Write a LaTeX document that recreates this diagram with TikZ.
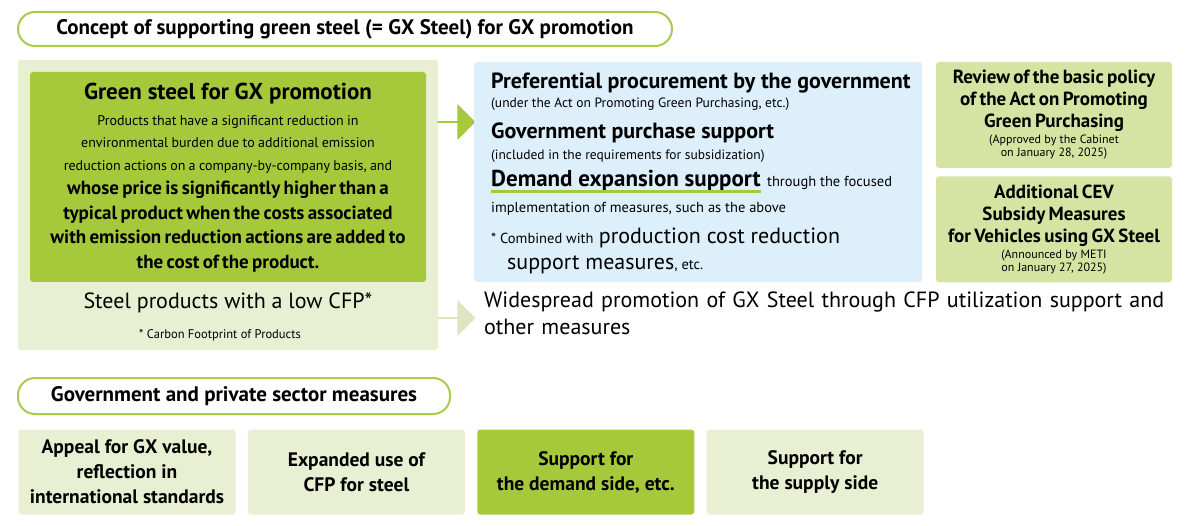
\documentclass[tikz,border=0pt]{standalone}
\usepackage{fontspec}
\setmainfont{PT Sans}
\usetikzlibrary{positioning,shapes.arrows}
\definecolor{gxbg}{HTML}{E8EFD2}
\definecolor{gxdark}{HTML}{A6C93C}
\definecolor{gxmid}{HTML}{D5E4A3}
\definecolor{gxblue}{HTML}{DDEFFA}
\definecolor{gxline}{HTML}{A8CB4A}
\definecolor{gxpale}{HTML}{DCE6C0}
\tikzset{
    pill/.style = {draw=gxline, line width=2pt, fill=white, rounded corners=17pt, inner sep=0pt, font=\bfseries\fontsize{21}{24}\selectfont},
    panel/.style = {fill=#1, inner sep=0pt, rounded corners=2pt},
    sidebox/.style = {fill=gxmid, rounded corners=3pt, minimum width=236pt, minimum height=106pt, text width=234pt, align=center, inner sep=0pt},
    bottombox/.style = {fill=gxbg, rounded corners=3pt, minimum width=217pt, minimum height=85pt, align=center, font=\bfseries\fontsize{19.5}{25}\selectfont},
    govline/.style = {anchor=base west, inner sep=0pt, font=\fontsize{#1}{#1}\selectfont},
    bigarrow/.style = {single arrow, fill=#1, minimum height=38pt, minimum width=36pt, single arrow head extend=4pt, inner sep=0pt}
}
\begin{document}
\begin{tikzpicture}[x=1pt,y=-1pt]
\useasboundingbox (0,0) rectangle (1196,526);
% title pills
\node (title1) [pill, minimum width=654pt, minimum height=34pt] at (345,29) {Concept of supporting green steel (= GX Steel) for GX promotion};
\node (title2) [pill, minimum width=432pt, minimum height=36pt] at (234,396) {Government and private sector measures};
% left panel
\fill[gxbg, rounded corners=3pt] (18,60) rectangle (438,350);
\node (green) [panel=gxdark, minimum width=396pt, minimum height=210pt, rounded corners=3pt] at (228,177) {};
\node (greentitle) [font=\bfseries\fontsize{23}{26}\selectfont] at (228,94) {Green steel for GX promotion};
\node (greenbody) [anchor=north, text width=396pt, align=center, inner sep=0pt] at (228,115) {%
  {\fontsize{14}{22.5}\selectfont Products that have a significant reduction in\\ environmental burden due to additional emission\\ reduction actions on a company-by-company basis, and\par}
  {\bfseries\fontsize{19}{24.5}\selectfont whose price is significantly higher than a\\ typical product when the costs associated\\ with emission reduction actions are added to\\ the cost of the product.\par}};
\node (lowcfp) [font=\fontsize{22}{24}\selectfont] at (228,303) {Steel products with a low CFP*};
\node (cfpnote) [font=\fontsize{12.5}{15}\selectfont] at (220,335) {* Carbon Footprint of Products};
% arrows
\node (arrowA) [bigarrow=gxdark] at (456,122) {};
\node (arrowB) [bigarrow=gxpale] at (456,318) {};
% government support panel
\node (gov) [panel=gxblue, minimum width=448pt, minimum height=220pt, rounded corners=3pt] at (698,172) {};
\node (gov1) [govline=22] at (491,89) {\bfseries Preferential procurement by the government};
\node (gov2) [govline=13.5] at (491,108) {(under the Act on Promoting Green Purchasing, etc.)};
\node (gov3) [govline=22] at (491,139) {\bfseries Government purchase support};
\node (gov4) [govline=13.5] at (491,160) {(included in the requirements for subsidization)};
\node (gov5) [govline=23] at (491,187) {\bfseries Demand expansion support};
\node (gov5b) [govline=14.5, anchor=base west] at ([xshift=6pt]gov5.base east) {through the focused};
\node (gov6) [govline=14.5] at (491,213) {implementation of measures, such as the above};
\node (gov7) [govline=14.5] at (491,244) {* Combined with};
\node (gov7b) [govline=22, anchor=base west] at ([xshift=5pt]gov7.base east) {production cost reduction};
\node (gov8) [govline=22] at (507,270) {support measures\fontsize{14.5}{14.5}\selectfont, etc.};
\draw[gxdark, line width=3pt] ([yshift=-5pt]gov5.base west) -- ([yshift=-5pt]gov5.base east);
% side boxes
\node (policy) [sidebox] at (1054,115) {%
  {\bfseries\fontsize{19}{22}\selectfont Review of the basic policy\\ of the Act on Promoting\\ Green Purchasing\par}\vspace{3pt}
  {\fontsize{12}{13}\selectfont (Approved by the Cabinet\\ on January 28, 2025)\par}};
\node (cev) [sidebox, below=8pt of policy] {%
  {\bfseries\fontsize{19}{22}\selectfont Additional CEV\\ Subsidy Measures\\ for Vehicles using GX Steel\par}\vspace{3pt}
  {\fontsize{12}{13}\selectfont (Announced by METI\\ on January 27, 2025)\par}};
% widespread promotion
\node (wide) [anchor=north west, inner sep=0pt, text width=700pt, align=left, font=\fontsize{22}{27}\selectfont] at (484,292) {Widespread promotion of GX Steel through CFP utilization support and\\ other measures};
% bottom measures
\node (appeal) [bottombox] at (127,472) {Appeal for GX value,\\ reflection in\\ international standards};
\node (expanded) [bottombox, right=12pt of appeal] {Expanded use of\\ CFP for steel};
\node (demand) [bottombox, fill=gxdark, right=12pt of expanded] {Support for\\ the demand side, etc.};
\node (supply) [bottombox, right=12pt of demand] {Support for\\ the supply side};
\end{tikzpicture}
\end{document}
